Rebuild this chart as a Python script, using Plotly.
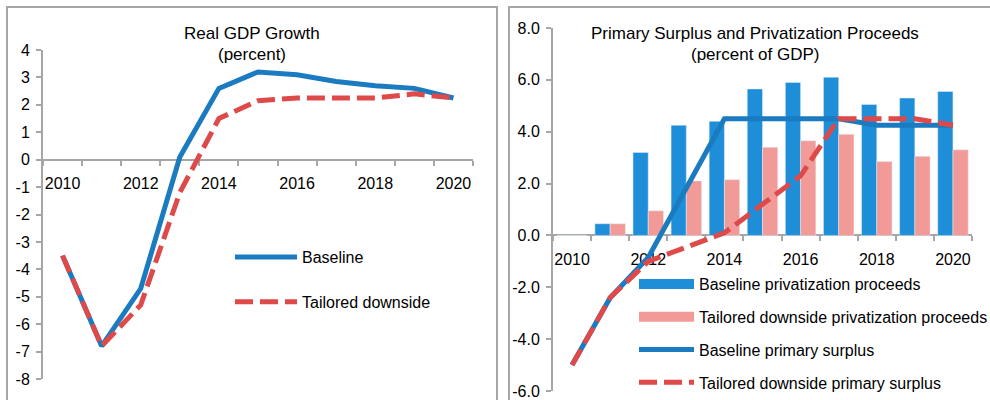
import plotly.graph_objects as go

years = [2010, 2011, 2012, 2013, 2014, 2015, 2016, 2017, 2018, 2019, 2020]

# Real GDP growth (percent)
gdp_baseline = [-3.5, -6.8, -4.7, 0.1, 2.6, 3.2, 3.1, 2.85, 2.7, 2.6, 2.25]
gdp_downside = [-3.5, -6.8, -5.3, -1.2, 1.5, 2.15, 2.25, 2.25, 2.25, 2.4, 2.25]

# Primary surplus and privatization proceeds (percent of GDP)
priv_baseline = [0.0, 0.45, 3.2, 4.25, 4.4, 5.65, 5.9, 6.1, 5.05, 5.3, 5.55]
priv_downside = [0.0, 0.45, 0.95, 2.1, 2.15, 3.4, 3.65, 3.9, 2.85, 3.05, 3.3]
ps_baseline = [-5.0, -2.4, -0.85, 1.8, 4.5, 4.5, 4.5, 4.5, 4.25, 4.25, 4.25]
ps_downside = [-5.0, -2.4, -1.0, -0.45, 0.1, 1.2, 2.3, 4.5, 4.5, 4.5, 4.25]

# tick labels
year_labels = [2010, 2012, 2014, 2016, 2018, 2020]
gdp_ticks = [4, 3, 2, 1, 0, -1, -2, -3, -4, -5, -6, -7, -8]
gdp_ticktext = [str(v) for v in gdp_ticks]
ps_ticks = [8, 6, 4, 2, 0, -2, -4, -6]
ps_ticktext = ['%.1f' % v for v in ps_ticks]

BLUE_LINE = '#1a7bc0'
RED_LINE = '#de4a4a'
BLUE_BAR = '#1e8ed9'
PINK_BAR = '#f19a97'
GREY = '#a6a6a6'
FONT = 'Liberation Sans, Arial, sans-serif'
DASH = '18px,7px'

W, H = 990, 400

# plot areas in pixels -> paper fractions
left_x = [43 / W, 473 / W]
left_y = [1 - 379 / H, 1 - 50 / H]
right_x = [553 / W, 972 / W]
right_y = [1 - 391 / H, 1 - 28 / H]
left_range = [-8, 4]
right_range = [-6, 8]


def zero_pos(dom, rng):
    return dom[0] + (0 - rng[0]) / (rng[1] - rng[0]) * (dom[1] - dom[0])


fig = go.Figure()

# left panel
fig.add_trace(go.Scatter(
    x=years, y=gdp_baseline, mode='lines', name='Baseline',
    line=dict(color=BLUE_LINE, width=5), xaxis='x', yaxis='y',
    legend='legend', legendgroup='a'))
fig.add_trace(go.Scatter(
    x=years, y=gdp_downside, mode='lines', name='Tailored downside',
    line=dict(color=RED_LINE, width=5, dash=DASH), xaxis='x', yaxis='y',
    legend='legend', legendgroup='b'))

# right panel
fig.add_trace(go.Bar(
    x=years, y=priv_baseline, name='Baseline privatization proceeds',
    marker=dict(color=BLUE_BAR), xaxis='x2', yaxis='y2', showlegend=False))
fig.add_trace(go.Bar(
    x=years, y=priv_downside, name='Tailored downside privatization proceeds',
    marker=dict(color=PINK_BAR), xaxis='x2', yaxis='y2', showlegend=False))
fig.add_trace(go.Scatter(
    x=years, y=ps_baseline, mode='lines', name='Baseline primary surplus',
    line=dict(color=BLUE_LINE, width=5), xaxis='x2', yaxis='y2',
    showlegend=False))
fig.add_trace(go.Scatter(
    x=years, y=ps_downside, mode='lines', name='Tailored downside primary surplus',
    line=dict(color=RED_LINE, width=5, dash=DASH), xaxis='x2', yaxis='y2',
    showlegend=False))

# legend-only entries for the right panel (wide swatches like the original)
legend2_items = [
    ('Baseline privatization proceeds', BLUE_BAR, 15, 'solid'),
    ('Tailored downside privatization proceeds', PINK_BAR, 15, 'solid'),
    ('Baseline primary surplus', BLUE_LINE, 5, 'solid'),
    ('Tailored downside primary surplus', RED_LINE, 5, DASH),
]
for i, (nm, col, wd, ds) in enumerate(legend2_items):
    fig.add_trace(go.Scatter(
        x=[None], y=[None], mode='lines', name=nm,
        line=dict(color=col, width=wd, dash=ds), xaxis='x2', yaxis='y2',
        legend='legend2', legendgroup='g%d' % i))

xcommon = dict(
    range=[2009.5, 2020.5], tickmode='array', tickvals=year_labels,
    ticktext=[str(y) for y in year_labels],
    ticks='', showline=True, linecolor=GREY, linewidth=2,
    showgrid=False, zeroline=False, ticklabelstandoff=9,
    tickfont=dict(family=FONT, size=16, color='#000'),
    layer='below traces',
    minor=dict(tick0=2009.5, dtick=1, ticks='outside', ticklen=5,
               tickcolor=GREY, tickwidth=2),
)
ycommon = dict(
    ticks='outside', ticklen=5, tickcolor=GREY, tickwidth=2,
    showline=True, linecolor=GREY, linewidth=2, showgrid=False,
    zeroline=False, ticklabelstandoff=3, tickmode='array',
    tickfont=dict(family=FONT, size=16, color='#000'),
)

fig.update_layout(
    width=W, height=H,
    margin=dict(l=0, r=0, t=0, b=0, autoexpand=False),
    paper_bgcolor='white', plot_bgcolor='white',
    barmode='group', bargap=0.2, bargroupgap=0,
    font=dict(family=FONT, size=16, color='#000'),
    xaxis=dict(domain=left_x, anchor='free',
               position=zero_pos(left_y, left_range), **xcommon),
    yaxis=dict(domain=left_y, range=left_range, tickvals=gdp_ticks,
               ticktext=gdp_ticktext, anchor='x', **ycommon),
    xaxis2=dict(domain=right_x, anchor='free',
                position=zero_pos(right_y, right_range), **xcommon),
    yaxis2=dict(domain=right_y, range=right_range, tickvals=ps_ticks,
                ticktext=ps_ticktext, anchor='x2', **ycommon),
    legend=dict(x=230 / W, y=1 - 240 / H, xanchor='left', yanchor='top',
                bgcolor='rgba(0,0,0,0)', itemwidth=62, tracegroupgap=21,
                traceorder='grouped', font=dict(family=FONT, size=16)),
    legend2=dict(x=634 / W, y=1 - 267 / H, xanchor='left', yanchor='top',
                 bgcolor='rgba(0,0,0,0)', itemwidth=55, tracegroupgap=9,
                 traceorder='grouped', font=dict(family=FONT, size=16)),
    shapes=[
        dict(type='rect', xref='paper', yref='paper', x0=7 / W, x1=497 / W,
             y0=-0.05, y1=1 - 7 / H, line=dict(color=GREY, width=2)),
        dict(type='rect', xref='paper', yref='paper', x0=509 / W, x1=1.05,
             y0=-0.05, y1=1 - 7 / H, line=dict(color=GREY, width=2)),
    ],
    annotations=[
        dict(text='Real GDP Growth', xref='paper', yref='paper',
             x=252 / W, y=1 - 34 / H, xanchor='center', yanchor='middle',
             showarrow=False, font=dict(family=FONT, size=17)),
        dict(text='(percent)', xref='paper', yref='paper',
             x=252 / W, y=1 - 54 / H, xanchor='center', yanchor='middle',
             showarrow=False, font=dict(family=FONT, size=17)),
        dict(text='Primary Surplus and Privatization Proceeds',
             xref='paper', yref='paper', x=755 / W, y=1 - 34 / H,
             xanchor='center', yanchor='middle', showarrow=False,
             font=dict(family=FONT, size=17)),
        dict(text='(percent of GDP)',
             xref='paper', yref='paper', x=755 / W, y=1 - 54 / H,
             xanchor='center', yanchor='middle', showarrow=False,
             font=dict(family=FONT, size=17)),
    ],
)

fig.write_html('out.html', config={'displayModeBar': False},
               post_script="document.body.style.margin='0';")
